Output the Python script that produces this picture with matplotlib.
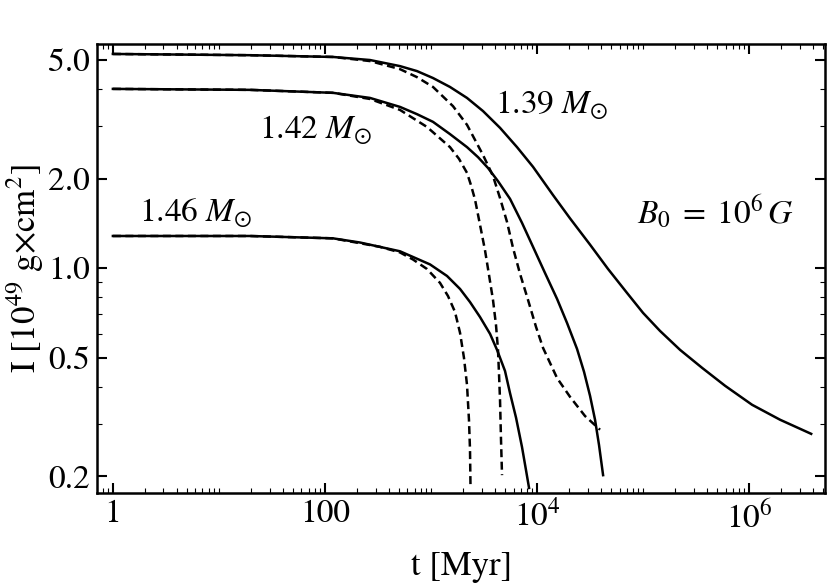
import numpy as np
import matplotlib
matplotlib.use("Agg")
import matplotlib.pyplot as plt
from matplotlib import ticker

plt.rcParams['font.family']      = "STIXGeneral"
plt.rcParams['mathtext.fontset'] = "stix"
plt.rcParams['axes.linewidth']   = 1.8
plt.rcParams['font.size']        = 24

# values: t [Myr], I [1e49 g cm^2]
t_139  = [1, 19.6, 119, 266, 510, 738, 1045, 1511, 2186, 3094, 4478, 6475, 9165, 14160,
          20480, 31620, 46770, 70630, 1.0e5, 144500, 223400, 360400, 594000,
          1.067e6, 1.96e6, 3.85e6]
I_139  = [5.24, 5.19, 5.12, 5.00, 4.77, 4.59, 4.35, 4.06, 3.73, 3.37, 2.96, 2.55, 2.19, 1.76,
          1.47, 1.20, 0.994, 0.826, 0.708, 0.616, 0.532, 0.463, 0.403,
          0.348, 0.310, 0.278]

t_139d = [1, 19.6, 119, 266, 510, 738, 1045, 1613, 2186, 3094, 3843, 4478, 5212, 5937,
          6918, 8222, 9790, 11400, 15450, 20480, 28360, 39290]
I_139d = [5.24, 5.19, 5.12, 4.96, 4.66, 4.38, 4.06, 3.50, 3.03, 2.40, 2.04, 1.72, 1.43, 1.17,
          0.957, 0.783, 0.635, 0.540, 0.428, 0.370, 0.319, 0.287]

t_142  = [1, 19.6, 119, 266, 510, 738, 1045, 1511, 2186, 2776, 3451, 4285, 5562, 7217,
          9165, 11890, 15450, 19190, 23840, 27750, 31620, 35240, 38430, 41980]
I_142  = [4.00, 3.97, 3.88, 3.73, 3.48, 3.29, 3.10, 2.82, 2.55, 2.36, 2.17, 1.96, 1.71, 1.42,
          1.18, 0.964, 0.789, 0.655, 0.536, 0.449, 0.373, 0.310, 0.255, 0.202]

t_142d = [1, 19.6, 119, 266, 510, 917, 1511, 1837, 2186, 2384, 2602, 2898, 3230, 3524,
          3843, 4102, 4285, 4383, 4478, 4575, 4677]
I_142d = [4.00, 3.97, 3.88, 3.70, 3.40, 2.98, 2.55, 2.33, 2.09, 1.90, 1.70, 1.40, 1.15, 0.950,
          0.783, 0.645, 0.532, 0.439, 0.361, 0.265, 0.202]

t_146  = [1, 19.6, 119, 214, 510, 979, 1416, 1879, 2333, 2898, 3606, 4196, 4989, 5562,
          6339, 7217, 7871, 8408]
I_146  = [1.283, 1.283, 1.26, 1.22, 1.14, 1.03, 0.942, 0.852, 0.770, 0.686, 0.602, 0.532,
          0.452, 0.381, 0.315, 0.251, 0.210, 0.183]

t_146d = [1, 19.6, 119, 330, 510, 676, 917, 1216, 1446, 1683, 1879, 2047, 2186, 2281,
          2333, 2358]
I_146d = [1.283, 1.283, 1.26, 1.18, 1.13, 1.07, 0.994, 0.893, 0.807, 0.714, 0.607, 0.500,
          0.406, 0.310, 0.246, 0.186]

xticks      = [1, 100, 1e4, 1e6]
xticklabels = ["1", "100", "$10^4$", "$10^6$"]
yticks      = [0.2, 0.5, 1.0, 2.0, 5.0]
yticklabels = ["0.2", "0.5", "1.0", "2.0", "5.0"]

fig = plt.figure(figsize=[8.3, 5.88], dpi=100)
ax = fig.add_axes([0.117, 0.1616, 0.877, 0.7636])

ax.plot(t_139,  I_139,  color='k', lw=1.8)
ax.plot(t_142,  I_142,  color='k', lw=1.8)
ax.plot(t_146,  I_146,  color='k', lw=1.8)
ax.plot(t_139d, I_139d, color='k', lw=1.8, ls=(0, (3.2, 1.8)))
ax.plot(t_142d, I_142d, color='k', lw=1.8, ls=(0, (3.2, 1.8)))
ax.plot(t_146d, I_146d, color='k', lw=1.8, ls=(0, (3.2, 1.8)))

ax.set_xscale('log')
ax.set_yscale('log')
ax.set_xlim(0.71, 5.2e6)
ax.set_ylim(0.176, 5.66)

ax.set_xticks(xticks)
ax.set_xticklabels(xticklabels)
ax.xaxis.set_minor_locator(ticker.LogLocator(base=10, subs=np.arange(1, 10), numticks=100))
ax.xaxis.set_minor_formatter(ticker.NullFormatter())
ax.set_yticks(yticks)
ax.set_yticklabels(yticklabels)
ax.yaxis.set_minor_locator(ticker.LogLocator(base=10, subs=np.arange(1, 10), numticks=100))
ax.yaxis.set_minor_formatter(ticker.NullFormatter())

ax.tick_params(which='both', direction='in', top=True, right=True, labelsize=24)
ax.tick_params(which='major', length=7, width=1.5, pad=5)
ax.tick_params(which='minor', length=3.5, width=0.8)

ax.set_xlabel("t [Myr]", fontsize=25, labelpad=12)
ax.set_ylabel("I [10$^{49}$ g$\\times$cm$^{2}$]", fontsize=25, labelpad=2)

ax.text(0.30, 0.808, "1.42 $M_{\\odot}$", transform=ax.transAxes, ha='center', va='center', fontsize=24)
ax.text(0.625, 0.864, "1.39 $M_{\\odot}$", transform=ax.transAxes, ha='center', va='center', fontsize=24)
ax.text(0.136, 0.624, "1.46 $M_{\\odot}$", transform=ax.transAxes, ha='center', va='center', fontsize=24)
ax.text(0.85, 0.624, "$B_0\\;=\\;10^6\\,G$", transform=ax.transAxes, ha='center', va='center', fontsize=24)

fig.savefig("out.png", dpi=100)
